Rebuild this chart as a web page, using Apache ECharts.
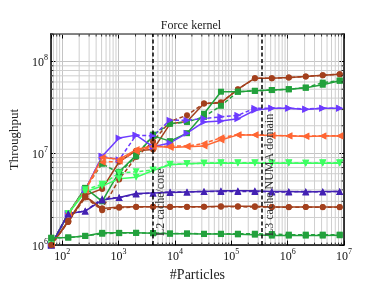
<!DOCTYPE html>
<html><head><meta charset="utf-8">
<script src="https://cdn.jsdelivr.net/npm/echarts@6/dist/echarts.min.js"></script>
<style>html,body{margin:0;padding:0;background:#fff}#c{width:382px;height:287px}</style>
</head><body><div id="c"></div>
<script>
const particles = [64,128,256,512,1024,2048,4096,8192,16384,32768,65536,131072,262144,524288,1048576,2097152,4194304,8388608];

const brownTopSolid  = [1.0e6,1.85e6,3.5e6,4.1e6,8.1e6,1.07e7,1.1e7,2.1e7,2.23e7,3.5e7,3.55e7,5.0e7,6.6e7,6.6e7,6.7e7,6.9e7,7.1e7,7.3e7];
const brownTopDashed = [1.0e6,1.8e6,3.4e6,2.5e6,5.2e6,9.1e6,1.35e7,2.23e7,2.6e7,3.5e7,3.6e7,4.97e7,6.6e7,6.6e7,6.7e7,6.9e7,7.1e7,7.3e7];
const greenTopSolid  = [1.0e6,2.2e6,4.2e6,3.0e6,6.3e6,9.5e6,1.55e7,1.36e7,1.66e7,2.7e7,4.7e7,4.7e7,4.8e7,4.9e7,5.0e7,5.2e7,5.6e7,6.2e7];
const greenTopDashed = [1.0e6,2.2e6,4.2e6,7.7e6,6.1e6,9.3e6,1.6e7,2.1e7,2.2e7,2.5e7,3.3e7,4.7e7,4.8e7,4.9e7,5.0e7,5.2e7,5.9e7,6.2e7];
const purpleSolid    = [1.0e6,2.2e6,4.0e6,9.3e6,1.47e7,1.58e7,1.18e7,1.3e7,1.66e7,2.2e7,2.25e7,2.38e7,2.95e7,3.1e7,3.1e7,3.0e7,3.1e7,3.1e7];
const purpleDashed   = [1.0e6,2.2e6,4.0e6,9.3e6,8.5e6,1.58e7,1.55e7,2.3e7,2.3e7,2.4e7,2.5e7,2.6e7,3.1e7,3.1e7,3.1e7,3.05e7,3.1e7,3.1e7];
const orangeSolid    = [1.0e6,2.2e6,4.0e6,9.0e6,8.6e6,1.1e7,1.2e7,1.16e7,1.18e7,1.2e7,1.4e7,1.59e7,1.59e7,1.57e7,1.56e7,1.53e7,1.55e7,1.55e7];
const orangeDashed   = [1.0e6,2.2e6,4.0e6,8.0e6,8.2e6,1.05e7,1.18e7,1.2e7,1.2e7,1.28e7,1.48e7,1.6e7,1.6e7,1.57e7,1.55e7,1.55e7,1.55e7,1.56e7];
const lgreenSolid    = [1.0e6,2.2e6,3.8e6,4.4e6,5.3e6,5.5e6,6.5e6,7.5e6,7.7e6,7.8e6,7.8e6,7.8e6,7.8e6,7.8e6,7.8e6,7.8e6,7.8e6,7.8e6];
const lgreenDashed   = [1.0e6,2.2e6,4.0e6,4.6e6,6.1e6,6.3e6,6.6e6,7.6e6,7.7e6,7.8e6,7.9e6,7.9e6,7.9e6,7.8e6,7.9e6,7.8e6,7.9e6,7.9e6];
const dpurpleSolid   = [1.0e6,2.2e6,2.35e6,3.1e6,3.3e6,3.65e6,3.7e6,3.75e6,3.8e6,3.85e6,3.9e6,3.9e6,3.9e6,3.85e6,3.85e6,3.8e6,3.85e6,3.85e6];
const dpurpleDashed  = [1.0e6,2.2e6,2.35e6,3.2e6,3.3e6,3.6e6,3.7e6,3.8e6,3.8e6,3.85e6,3.85e6,3.85e6,3.85e6,3.8e6,3.8e6,3.85e6,3.8e6,3.85e6];
const brownBotSolid  = [1.0e6,1.8e6,3.4e6,2.5e6,2.6e6,2.62e6,2.62e6,2.62e6,2.62e6,2.62e6,2.65e6,2.65e6,2.65e6,2.6e6,2.6e6,2.6e6,2.6e6,2.6e6];
const brownBotDashed = [1.0e6,1.8e6,3.3e6,2.4e6,2.55e6,2.6e6,2.62e6,2.6e6,2.6e6,2.62e6,2.62e6,2.62e6,2.6e6,2.6e6,2.58e6,2.6e6,2.58e6,2.58e6];
const greenBotSolid  = [1.2e6,1.21e6,1.26e6,1.36e6,1.36e6,1.36e6,1.35e6,1.33e6,1.33e6,1.32e6,1.32e6,1.31e6,1.3e6,1.27e6,1.27e6,1.27e6,1.27e6,1.28e6];
const greenBotDashed = [1.2e6,1.21e6,1.26e6,1.33e6,1.35e6,1.36e6,1.35e6,1.34e6,1.34e6,1.33e6,1.33e6,1.33e6,1.33e6,1.32e6,1.3e6,1.3e6,1.3e6,1.3e6];

const cacheLines = [4096, 350000];
const cacheNames = ['L2 cache/core', 'L3 cache NUMA domain'];

const X_MIN = 63, X_MAX = 1e7, Y_MIN = 1e6, Y_MAX = 2e8;
const FONT = 'Liberation Serif';
const BROWN = '#a3401d', GREEN = '#22a13c', PURPLE = '#6d3cff', ORANGE = '#ff6633', LGREEN = '#3dff62', DPURPLE = '#4321b3';

const groups = [
  {c: BROWN, s: 'circle', r: 0, a: brownTopSolid, b: brownTopDashed, sz: 6},
  {c: GREEN, s: 'rect', r: 0, a: greenTopSolid, b: greenTopDashed, sz: 6},
  {c: PURPLE, s: 'triangle', r: -90, a: purpleSolid, b: purpleDashed, sz: 7},
  {c: ORANGE, s: 'triangle', r: 90, a: orangeSolid, b: orangeDashed, sz: 7},
  {c: LGREEN, s: 'triangle', r: 180, a: lgreenSolid, b: lgreenDashed, sz: 7},
  {c: DPURPLE, s: 'triangle', r: 0, a: dpurpleSolid, b: dpurpleDashed, sz: 7},
  {c: BROWN, s: 'circle', r: 0, a: brownBotSolid, b: brownBotDashed, sz: 6},
  {c: GREEN, s: 'rect', r: 0, a: greenBotSolid, b: greenBotDashed, sz: 6}
];

// minor tick positions (2..9 x 10^k)
const minorX = [], minorY = [];
for (let d = 1; d <= 7; d++) for (let m = 2; m <= 9; m++) { const v = m * Math.pow(10, d); if (v > X_MIN && v < X_MAX) minorX.push(v); }
for (let d = 6; d <= 8; d++) for (let m = 2; m <= 9; m++) { const v = m * Math.pow(10, d); if (v > Y_MIN && v <= Y_MAX) minorY.push(v); }

function isPow10(v){ const l = Math.log10(v); return Math.abs(l - Math.round(l)) < 1e-6; }
function fmt(v){ if (!isPow10(v)) return ''; return '{b|10}{s|' + Math.round(Math.log10(v)) + '}'; }
const rich = {
  b: {fontFamily: FONT, fontSize: 12, color: '#111', lineHeight: 15, verticalAlign: 'bottom'},
  s: {fontFamily: FONT, fontSize: 8, color: '#111', lineHeight: 9, verticalAlign: 'top'}
};

const series = [];
series.push({
  type: 'custom', xAxisIndex: 0, yAxisIndex: 0, z: 1, silent: true, clip: false,
  data: minorX.map(v => [v, Y_MIN]),
  renderItem: (p, api) => { const cs = p.coordSys; const x = api.coord([api.value(0), Y_MIN])[0];
    return {type: 'line', shape: {x1: x, y1: cs.y, x2: x, y2: cs.y + cs.height}, style: {stroke: '#cfcfcf', lineWidth: 1}}; }
});
series.push({
  type: 'custom', xAxisIndex: 0, yAxisIndex: 0, z: 1, silent: true, clip: false,
  data: minorY.map(v => [X_MIN, v]),
  renderItem: (p, api) => { const cs = p.coordSys; const y = api.coord([X_MIN, api.value(1)])[1];
    return {type: 'line', shape: {x1: cs.x, y1: y, x2: cs.x + cs.width, y2: y}, style: {stroke: '#cfcfcf', lineWidth: 1}}; }
});
groups.forEach(g => {
  [['a', 'solid'], ['b', [4, 2.5]]].forEach(([k, t]) => {
    series.push({
      type: 'line', z: 3, silent: true, animation: false,
      data: particles.map((x, i) => [x, g[k][i]]),
      symbol: g.s, symbolSize: g.sz, symbolRotate: g.r, showSymbol: true,
      itemStyle: {color: g.c},
      lineStyle: {color: g.c, width: 1.5, type: t}
    });
  });
});
series.push({
  type: 'line', data: [], z: 4, silent: true,
  markLine: {
    silent: true, symbol: ['none', 'none'], animation: false,
    lineStyle: {color: '#000', width: 1.5, type: [4, 2.5]},
    label: {show: true, position: 'insideStartBottom', formatter: '{b}', fontFamily: FONT, fontSize: 12, color: '#333', distance: [9, 2]},
    data: cacheLines.map((v, i) => ({name: cacheNames[i], xAxis: v}))
  }
});
// minor ticks on all four edges
series.push({
  type: 'custom', xAxisIndex: 0, yAxisIndex: 0, z: 6, silent: true, clip: false,
  data: minorX.map(v => [v, Y_MIN]),
  renderItem: (p, api) => { const cs = p.coordSys; const x = api.coord([api.value(0), Y_MIN])[0];
    return {type: 'group', children: [
      {type: 'line', shape: {x1: x, y1: cs.y + cs.height, x2: x, y2: cs.y + cs.height - 2.5}, style: {stroke: '#000', lineWidth: 0.8}},
      {type: 'line', shape: {x1: x, y1: cs.y, x2: x, y2: cs.y + 2.5}, style: {stroke: '#000', lineWidth: 0.8}}]}; }
});
series.push({
  type: 'custom', xAxisIndex: 0, yAxisIndex: 0, z: 6, silent: true, clip: false,
  data: minorY.map(v => [X_MIN, v]),
  renderItem: (p, api) => { const cs = p.coordSys; const y = api.coord([X_MIN, api.value(1)])[1];
    return {type: 'group', children: [
      {type: 'line', shape: {x1: cs.x, y1: y, x2: cs.x + 2.5, y2: y}, style: {stroke: '#000', lineWidth: 0.8}},
      {type: 'line', shape: {x1: cs.x + cs.width, y1: y, x2: cs.x + cs.width - 2.5, y2: y}, style: {stroke: '#000', lineWidth: 0.8}}]}; }
});

const axisCommon = {
  type: 'log', logBase: 10,
  axisLine: {show: true, onZero: false, lineStyle: {color: '#000', width: 1.5}},
  axisTick: {show: true, inside: true, length: 4.5, lineStyle: {color: '#000', width: 1}}
};

const chart = echarts.init(document.getElementById('c'), null, {renderer: 'canvas'});
chart.setOption({
  animation: false,
  backgroundColor: '#fff',
  title: {text: 'Force kernel', left: 'center', top: 15, textStyle: {fontFamily: FONT, fontSize: 12, fontWeight: 'normal', color: '#222'}},
  grid: {left: 48, right: 38, top: 34, bottom: 31, containLabel: false},
  xAxis: [
    Object.assign({}, axisCommon, {position: 'bottom', min: X_MIN, max: X_MAX, splitNumber: 5,
      name: '#Particles', nameLocation: 'middle', nameGap: 21,
      nameTextStyle: {fontFamily: FONT, fontSize: 14, color: '#222'},
      axisLabel: {formatter: fmt, rich: rich, margin: 3, showMinLabel: true, showMaxLabel: true, hideOverlap: false},
      splitLine: {show: true, lineStyle: {color: '#c4c4c4', width: 1}}}),
    Object.assign({}, axisCommon, {position: 'top', min: X_MIN, max: X_MAX, splitNumber: 5,
      axisLabel: {show: false}, splitLine: {show: false}})
  ],
  yAxis: [
    Object.assign({}, axisCommon, {position: 'left', min: Y_MIN, max: Y_MAX, splitNumber: 2,
      name: 'Throughput', nameLocation: 'middle', nameGap: 26,
      nameTextStyle: {fontFamily: FONT, fontSize: 13, color: '#222'},
      axisLabel: {formatter: fmt, rich: rich, margin: 3, showMinLabel: true, showMaxLabel: true},
      splitLine: {show: true, lineStyle: {color: '#c4c4c4', width: 1}}}),
    Object.assign({}, axisCommon, {position: 'right', min: Y_MIN, max: Y_MAX, splitNumber: 2,
      axisLabel: {show: false}, splitLine: {show: false}})
  ],
  series: series
});
</script></body></html>
